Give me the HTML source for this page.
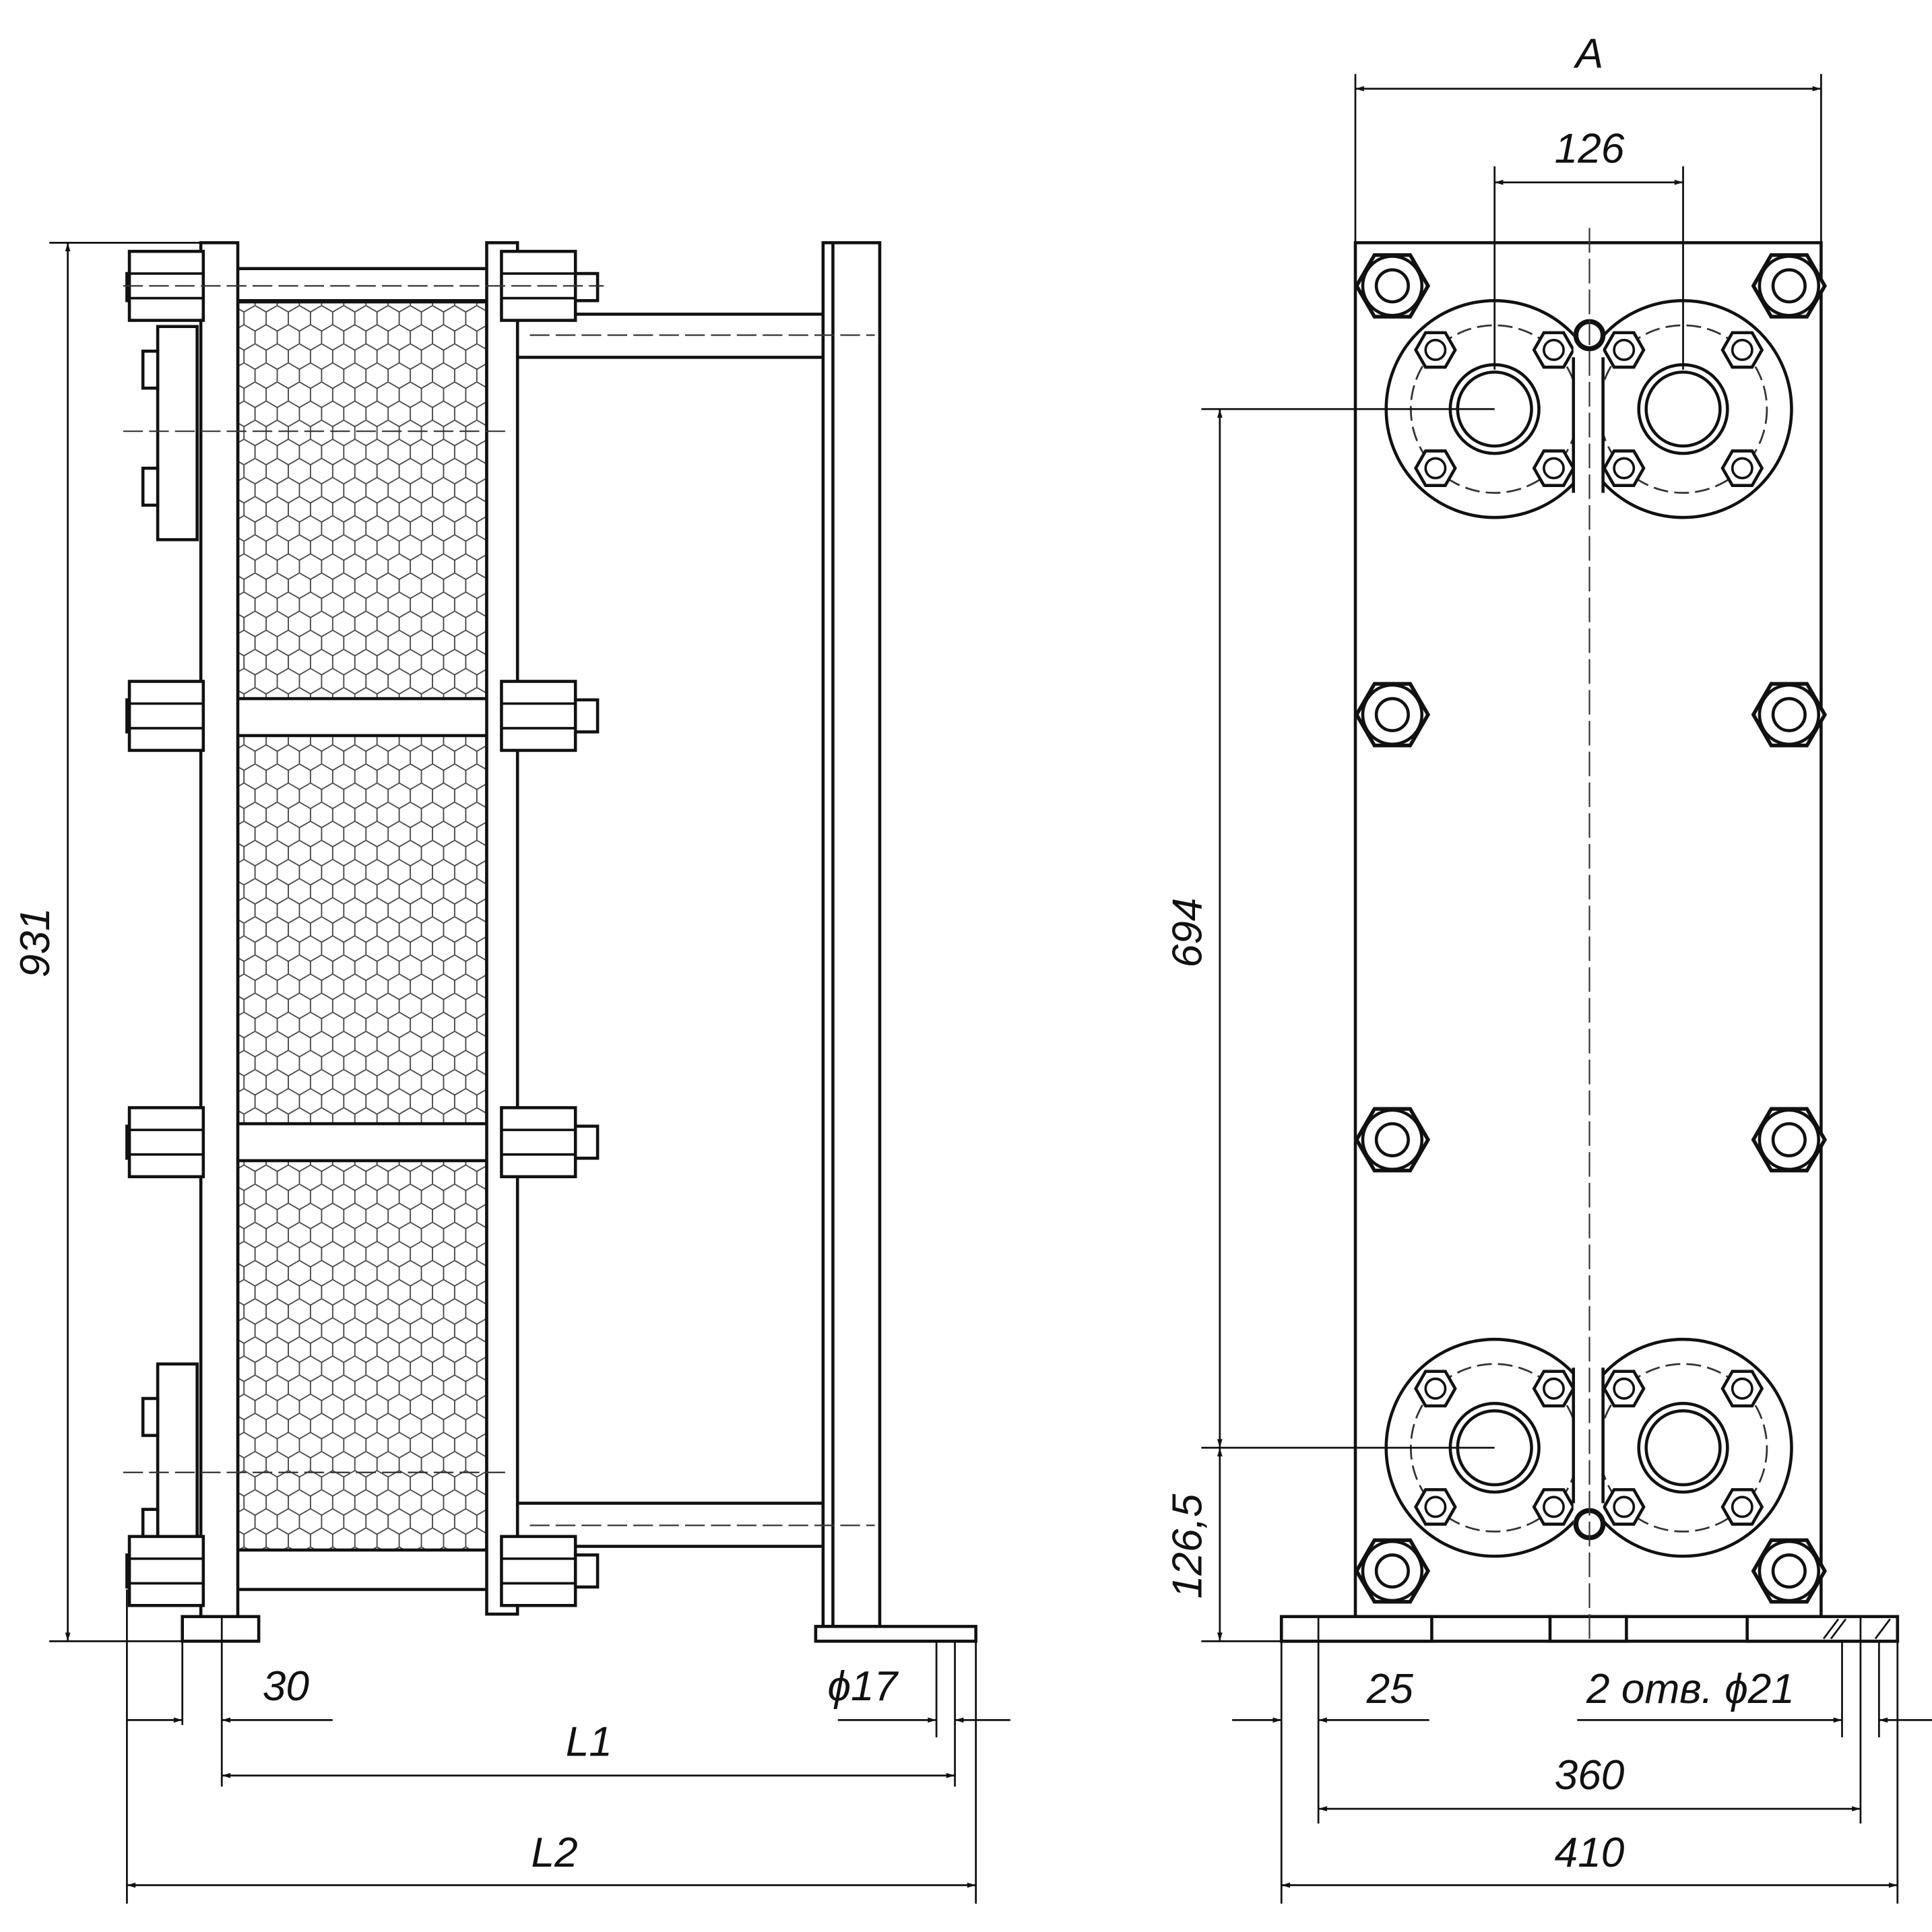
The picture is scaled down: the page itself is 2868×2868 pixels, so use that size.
<!DOCTYPE html>
<html><head><meta charset="utf-8"><style>
html,body{margin:0;padding:0;background:#fff;}
svg{display:block;}
text{font-family:"Liberation Sans",sans-serif;font-style:italic;fill:#111;}
</style></head><body>
<svg width="2868" height="2868" viewBox="0 0 1568 1568" xmlns="http://www.w3.org/2000/svg">
<defs>
<pattern id="hex" width="18" height="31" patternUnits="userSpaceOnUse">
<path d="M0,5.2 L9,0 L18,5.2 L18,15.5 L9,20.7 L0,15.5 Z M9,20.7 L9,31" fill="none" stroke="#444" stroke-width="1"/>
</pattern>
<marker id="ar" viewBox="0 0 10 10" refX="10" refY="5" markerWidth="16" markerHeight="7" orient="auto-start-reverse" markerUnits="userSpaceOnUse"><path d="M0,2 L10,5 L0,8 Z" fill="#111"/></marker>
<g id="nutV">
<rect x="-30" y="-28" width="60" height="56" fill="#fff" stroke="#111" stroke-width="2.5"/>
<line x1="-30" y1="-10" x2="30" y2="-10" stroke="#111" stroke-width="2"/>
<line x1="-30" y1="10" x2="30" y2="10" stroke="#111" stroke-width="2"/>
</g>
<g id="nut">
<polygon points="29,0 14.5,25 -14.5,25 -29,0 -14.5,-25 14.5,-25" fill="#fff" stroke="#111" stroke-width="3"/>
<circle r="24" fill="none" stroke="#111" stroke-width="2.5"/>
<circle r="13" fill="none" stroke="#111" stroke-width="2.5"/>
</g>
<g id="sb"><polygon points="16,0 8,14 -8,14 -16,0 -8,-14 8,-14" fill="#fff" stroke="#111" stroke-width="2.5"/><circle r="8" fill="none" stroke="#111" stroke-width="2"/></g>
<g id="fl">
<circle r="88" fill="#fff" stroke="#111" stroke-width="2.5"/>
<circle r="68" fill="none" stroke="#333" stroke-width="1.5" stroke-dasharray="12,5"/>
<circle r="36" fill="none" stroke="#111" stroke-width="2.5"/>
<circle r="30" fill="none" stroke="#111" stroke-width="2.5"/>
<use href="#sb" x="-48" y="-48"/><use href="#sb" x="48" y="-48"/><use href="#sb" x="-48" y="48"/><use href="#sb" x="48" y="48"/>
</g>
</defs>
<g stroke="#111" stroke-width="2.5" fill="none">
<rect x="193" y="245" width="202" height="1015" fill="url(#hex)" stroke="#111"/>
<rect x="170" y="218" width="250" height="26" fill="#fff"/>
<rect x="170" y="567" width="245" height="30" fill="#fff"/>
<rect x="170" y="912" width="245" height="30" fill="#fff"/>
<rect x="170" y="1258" width="245" height="32" fill="#fff"/>
<rect x="420" y="255" width="248" height="35" fill="#fff"/>
<rect x="420" y="1220" width="248" height="35" fill="#fff"/>
<rect x="163" y="197" width="30" height="1115" fill="#fff"/>
<rect x="395" y="197" width="25" height="1113" fill="#fff"/>
<rect x="668" y="197" width="46" height="1123" fill="#fff"/>
<line x1="676" y1="197" x2="676" y2="1320"/>
<rect x="662" y="1320" width="130" height="12" fill="#fff"/>
<rect x="148" y="1312" width="62" height="20" fill="#fff"/>
<rect x="128" y="265" width="32" height="173" fill="#fff"/>
<rect x="116" y="285" width="12" height="30" fill="#fff"/>
<rect x="116" y="380" width="12" height="30" fill="#fff"/>
<rect x="128" y="1107" width="32" height="143" fill="#fff"/>
<rect x="116" y="1135" width="12" height="30" fill="#fff"/>
<rect x="116" y="1225" width="12" height="30" fill="#fff"/>
<rect x="455" y="222" width="30" height="22" fill="#fff"/>
<rect x="455" y="568" width="30" height="26" fill="#fff"/>
<rect x="455" y="914" width="30" height="26" fill="#fff"/>
<rect x="455" y="1262" width="30" height="26" fill="#fff"/>
<rect x="103" y="222" width="12" height="22" fill="#fff"/>
<rect x="103" y="568" width="12" height="26" fill="#fff"/>
<rect x="103" y="914" width="12" height="26" fill="#fff"/>
<rect x="103" y="1262" width="12" height="26" fill="#fff"/>
</g>
<use href="#nutV" x="135" y="232"/><use href="#nutV" x="437" y="232"/>
<use href="#nutV" x="135" y="581"/><use href="#nutV" x="437" y="581"/>
<use href="#nutV" x="135" y="927"/><use href="#nutV" x="437" y="927"/>
<use href="#nutV" x="135" y="1275"/><use href="#nutV" x="437" y="1275"/>
<g stroke="#333" stroke-width="1.2" stroke-dasharray="16,5" fill="none">
<line x1="100" y1="232" x2="490" y2="232"/><line x1="100" y1="350" x2="410" y2="350"/>
<line x1="100" y1="1195" x2="410" y2="1195"/><line x1="430" y1="272" x2="710" y2="272"/>
<line x1="430" y1="1238" x2="710" y2="1238"/>
</g>
<g stroke="#111" stroke-width="1.5" fill="none">
<line x1="40" y1="197" x2="163" y2="197"/><line x1="40" y1="1332" x2="148" y2="1332"/>
<line x1="55" y1="197" x2="55" y2="1332" marker-start="url(#ar)" marker-end="url(#ar)"/>
<line x1="103" y1="1290" x2="103" y2="1545"/><line x1="148" y1="1332" x2="148" y2="1400"/>
<line x1="180" y1="1312" x2="180" y2="1450"/><line x1="760" y1="1332" x2="760" y2="1410"/>
<line x1="775" y1="1332" x2="775" y2="1450"/><line x1="792" y1="1332" x2="792" y2="1545"/>
<line x1="103" y1="1396" x2="148" y2="1396" marker-end="url(#ar)"/>
<line x1="270" y1="1396" x2="180" y2="1396" marker-end="url(#ar)"/>
<line x1="680" y1="1396" x2="760" y2="1396" marker-end="url(#ar)"/>
<line x1="820" y1="1396" x2="775" y2="1396" marker-end="url(#ar)"/>
<line x1="180" y1="1441" x2="775" y2="1441" marker-start="url(#ar)" marker-end="url(#ar)"/>
<line x1="103" y1="1530" x2="792" y2="1530" marker-start="url(#ar)" marker-end="url(#ar)"/>
</g>
<text x="40" y="765" font-size="34" transform="rotate(-90 40 765)" text-anchor="middle">931</text>
<text x="232" y="1380" font-size="34" text-anchor="middle">30</text>
<text x="700" y="1380" font-size="34" text-anchor="middle">ϕ17</text>
<text x="478" y="1425" font-size="34" text-anchor="middle">L1</text>
<text x="450" y="1515" font-size="34" text-anchor="middle">L2</text>

<g stroke="#111" stroke-width="2.5" fill="#fff">
<rect x="1100" y="197" width="378" height="1115"/>
<rect x="1040" y="1312" width="500" height="20"/>
<rect x="1040" y="1312" width="122" height="20"/>
<rect x="1258" y="1312" width="62" height="20"/>
<rect x="1418" y="1312" width="122" height="20"/>
</g>
<use href="#fl" x="1213" y="332"/><use href="#fl" x="1366" y="332"/>
<use href="#fl" x="1213" y="1175"/><use href="#fl" x="1366" y="1175"/>
<rect x="1277" y="240" width="24" height="180" fill="#fff"/>
<rect x="1277" y="1090" width="24" height="180" fill="#fff"/>
<g stroke="#111" stroke-width="2.5" fill="none">
<line x1="1277" y1="290" x2="1277" y2="400"/><line x1="1301" y1="290" x2="1301" y2="400"/>
<line x1="1277" y1="1110" x2="1277" y2="1220"/><line x1="1301" y1="1110" x2="1301" y2="1220"/>
<circle cx="1290" cy="272" r="11" stroke-width="4"/><circle cx="1290" cy="1237" r="11" stroke-width="4"/>
</g>
<use href="#nut" x="1130" y="232"/><use href="#nut" x="1452" y="232"/>
<use href="#nut" x="1130" y="580"/><use href="#nut" x="1452" y="580"/>
<use href="#nut" x="1130" y="925"/><use href="#nut" x="1452" y="925"/>
<use href="#nut" x="1130" y="1275"/><use href="#nut" x="1452" y="1275"/>
<g stroke="#333" stroke-width="1.2" stroke-dasharray="20,5" fill="none">
<line x1="1290" y1="185" x2="1290" y2="1335"/>
</g>
<g stroke="#111" stroke-width="1.5" fill="none">
<line x1="1100" y1="60" x2="1100" y2="197"/><line x1="1478" y1="60" x2="1478" y2="197"/>
<line x1="1100" y1="72" x2="1478" y2="72" marker-start="url(#ar)" marker-end="url(#ar)"/>
<line x1="1213" y1="135" x2="1213" y2="300"/><line x1="1366" y1="135" x2="1366" y2="300"/>
<line x1="1213" y1="148" x2="1366" y2="148" marker-start="url(#ar)" marker-end="url(#ar)"/>
<line x1="975" y1="332" x2="1213" y2="332"/><line x1="975" y1="1175" x2="1213" y2="1175"/>
<line x1="975" y1="1332" x2="1040" y2="1332"/>
<line x1="990" y1="332" x2="990" y2="1175" marker-start="url(#ar)" marker-end="url(#ar)"/>
<line x1="990" y1="1175" x2="990" y2="1332" marker-start="url(#ar)" marker-end="url(#ar)"/>
<line x1="1040" y1="1332" x2="1040" y2="1545"/><line x1="1070" y1="1312" x2="1070" y2="1480"/>
<line x1="1510" y1="1312" x2="1510" y2="1480"/><line x1="1540" y1="1332" x2="1540" y2="1545"/>
<line x1="1495" y1="1332" x2="1495" y2="1410"/><line x1="1525" y1="1332" x2="1525" y2="1410"/>
<line x1="1000" y1="1396" x2="1040" y2="1396" marker-end="url(#ar)"/>
<line x1="1160" y1="1396" x2="1070" y2="1396" marker-end="url(#ar)"/>
<line x1="1280" y1="1396" x2="1495" y2="1396" marker-end="url(#ar)"/>
<line x1="1568" y1="1396" x2="1525" y2="1396" marker-end="url(#ar)"/>
<line x1="1070" y1="1468" x2="1510" y2="1468" marker-start="url(#ar)" marker-end="url(#ar)"/>
<line x1="1040" y1="1530" x2="1540" y2="1530" marker-start="url(#ar)" marker-end="url(#ar)"/>
<line x1="1480" y1="1330" x2="1492" y2="1314"/><line x1="1486" y1="1330" x2="1498" y2="1314"/>
<line x1="1522" y1="1330" x2="1534" y2="1314"/>
</g>
<text x="1290" y="55" font-size="34" text-anchor="middle">A</text>
<text x="1290" y="132" font-size="34" text-anchor="middle">126</text>
<text x="975" y="757" font-size="34" transform="rotate(-90 975 757)" text-anchor="middle">694</text>
<text x="975" y="1255" font-size="34" transform="rotate(-90 975 1255)" text-anchor="middle">126,5</text>
<text x="1128" y="1382" font-size="34" text-anchor="middle">25</text>
<text x="1372" y="1382" font-size="34" text-anchor="middle">2 отв. ϕ21</text>
<text x="1290" y="1452" font-size="34" text-anchor="middle">360</text>
<text x="1290" y="1515" font-size="34" text-anchor="middle">410</text>
</svg>
</body></html>
